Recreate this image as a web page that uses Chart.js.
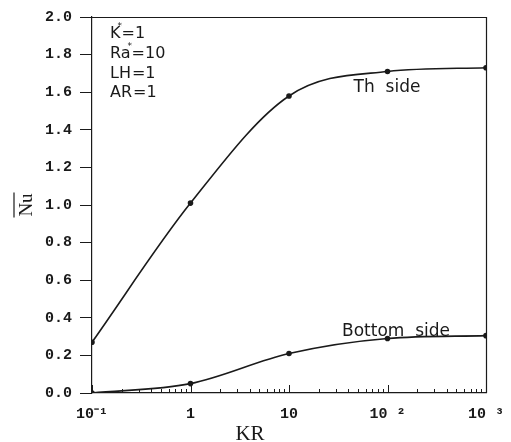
<!DOCTYPE html>
<html>
<head>
<meta charset="utf-8">
<script src="https://cdn.jsdelivr.net/npm/chart.js@4/dist/chart.umd.min.js"></script>
<style>
  html, body { margin: 0; padding: 0; background: #fff; }
  #wrap { width: 511px; height: 442px; position: relative; }
</style>
</head>
<body>
<div id="wrap"><canvas id="c" width="511" height="442"></canvas></div>
<script>
// ---- data ----
const kr = [0.1, 1, 10, 100, 1000];
const thSide = [0.27, 1.01, 1.58, 1.71, 1.73];
const bottomSide = [0.0, 0.05, 0.21, 0.29, 0.305];
const decadeLabels = {"0.1": "10⁻¹", "1": "1", "10": "10", "100": "10 ²", "1000": "10 ³"};
const yTicks = [0, 0.2, 0.4, 0.6, 0.8, 1.0, 1.2, 1.4, 1.6, 1.8, 2.0];
const paramLines = [["K", "*", "=1"], ["Ra", "*", "=10"], ["LH", "", "=1"], ["AR", "", "=1"]];
const curveLabels = ["Th  side", "Bottom  side"];

const ink = '#1a1a1a';

const minorTickValues = [];
for (let e = -1; e < 3; e++) {
  for (let m = 1; m < 10; m++) minorTickValues.push(m * Math.pow(10, e));
}
minorTickValues.push(1000);

function isDecade(v) {
  const l = Math.log10(v);
  return Math.abs(l - Math.round(l)) < 1e-9;
}

const decor = {
  id: 'decor',
  afterDraw(chart) {
    const ctx = chart.ctx;
    const a = chart.chartArea;
    const xs = chart.scales.x;
    ctx.save();
    ctx.strokeStyle = ink;
    ctx.lineWidth = 1.2;
    // top & right frame
    ctx.beginPath();
    ctx.moveTo(a.left, a.top + 0.5);
    ctx.lineTo(a.right, a.top + 0.5);
    ctx.moveTo(a.right + 0.5, a.top);
    ctx.lineTo(a.right + 0.5, a.bottom);
    ctx.stroke();
    // inner x ticks
    ctx.lineWidth = 1;
    ctx.beginPath();
    xs.ticks.forEach(t => {
      const px = Math.round(xs.getPixelForValue(t.value)) + 0.5;
      const len = isDecade(t.value) ? 8 : 4;
      ctx.moveTo(px, a.bottom);
      ctx.lineTo(px, a.bottom - len);
    });
    ctx.stroke();
    // parameter block
    ctx.fillStyle = ink;
    ctx.textBaseline = 'alphabetic';
    const baseY = [38, 58, 78, 97];
    paramLines.forEach((p, i) => {
      ctx.font = '16px "DejaVu Sans"';
      let x = 110;
      ctx.fillText(p[0], x, baseY[i]);
      x += ctx.measureText(p[0]).width;
      if (p[1]) {
        ctx.font = '9px "DejaVu Sans"';
        ctx.fillText(p[1], x - 3, baseY[i] - 9);
      }
      ctx.font = '16px "DejaVu Sans"';
      ctx.fillText(p[2], x + 1, baseY[i]);
    });
    // curve labels
    ctx.font = '17px "DejaVu Sans"';
    ctx.textAlign = 'center';
    ctx.fillText(curveLabels[0], 387, 92);
    ctx.fillText(curveLabels[1], 396, 336);
    // axis titles
    ctx.font = '21px "Liberation Serif"';
    ctx.fillText('KR', 250, 440);
    ctx.save();
    ctx.translate(27, 205);
    ctx.rotate(-Math.PI / 2);
    ctx.font = '19px "Liberation Serif"';
    ctx.textBaseline = 'middle';
    ctx.fillText('Nu', 0, 0);
    const w = ctx.measureText('Nu').width;
    ctx.beginPath();
    ctx.moveTo(-w / 2 - 1, -13);
    ctx.lineTo(w / 2 + 1, -13);
    ctx.lineWidth = 1.2;
    ctx.stroke();
    ctx.restore();
    ctx.restore();
  }
};

new Chart(document.getElementById('c'), {
  type: 'line',
  data: {
    datasets: [
      {
        label: 'Th side',
        data: kr.map((k, i) => ({x: k, y: thSide[i]})),
        borderColor: ink, backgroundColor: ink, borderWidth: 1.6,
        pointRadius: 2, pointStyle: 'circle',
        cubicInterpolationMode: 'monotone'
      },
      {
        label: 'Bottom side',
        data: kr.map((k, i) => ({x: k, y: bottomSide[i]})),
        borderColor: ink, backgroundColor: ink, borderWidth: 1.6,
        pointRadius: 2, pointStyle: 'circle',
        cubicInterpolationMode: 'monotone'
      }
    ]
  },
  options: {
    responsive: false,
    animation: false,
    layout: { padding: { left: 0, top: 17, right: 25, bottom: 0 } },
    plugins: { legend: { display: false }, tooltip: { enabled: false } },
    scales: {
      x: {
        type: 'logarithmic',
        min: 0.1, max: 1000,
        afterBuildTicks(scale) { scale.ticks = minorTickValues.map(v => ({value: v})); },
        afterFit(scale) { scale.height = 49; scale.paddingLeft = 0; scale.paddingRight = 0; },
        border: { display: true, color: ink, width: 1.2 },
        grid: { display: true, drawOnChartArea: false, drawTicks: false },
        ticks: {
          autoSkip: false, maxRotation: 0, padding: 12,
          color: ink,
          font: { family: '"Liberation Mono"', size: 15, weight: 'bold' },
          callback(v) { const k = String(+v.toPrecision(6)); return decadeLabels[k] !== undefined ? decadeLabels[k] : ''; }
        }
      },
      y: {
        min: 0, max: 2.0,
        afterBuildTicks(scale) { scale.ticks = yTicks.map(v => ({value: v})); },
        afterFit(scale) { scale.width = 92; scale.paddingTop = 0; scale.paddingBottom = 0; },
        border: { display: true, color: ink, width: 1.2 },
        grid: { display: true, drawOnChartArea: false, drawTicks: true, tickLength: 12, color: ink, lineWidth: 1 },
        ticks: {
          padding: 8, color: ink,
          font: { family: '"Liberation Mono"', size: 15, weight: 'bold' },
          callback(v) { return Number(v).toFixed(1); }
        }
      }
    }
  },
  plugins: [decor]
});
</script>
</body>
</html>
